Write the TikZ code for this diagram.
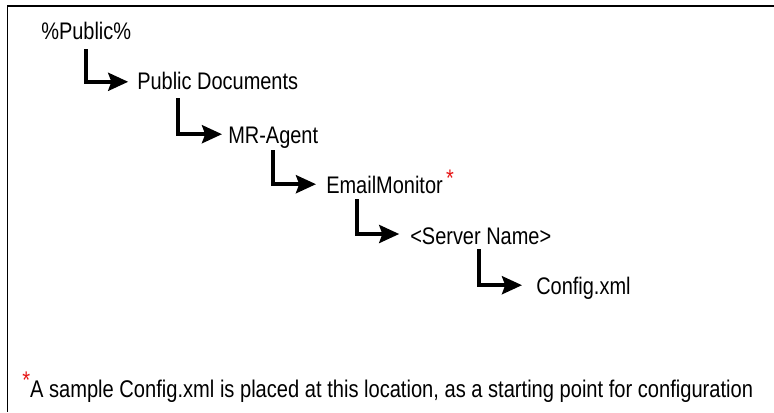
\documentclass[tikz,border=0pt]{standalone}
\usepackage{fontspec}
\setmainfont{Liberation Sans}
\definecolor{starred}{RGB}{230, 20, 20}
\usetikzlibrary{arrows.meta}

\begin{document}
\begin{tikzpicture}[
    folder/.style={anchor=base west, inner sep=0pt, yscale=1.2, transform shape, font=\fontsize{14.2}{17}\selectfont},
    elbow/.style={-{Stealth[length=0.5cm, width=0.45cm, inset=0.08cm]}, line width=2.6pt},
    frame/.style={line width=1.1pt}
  ]
  \useasboundingbox (0, 0) rectangle (19.35, -10.3);

  % Frame (top and left edges only)
  \draw[frame] (19.35, -0.15) -- (0.19, -0.15) -- (0.19, -10.3);

  % Folder path
  \node[folder] (pub) at (1.025, -0.975) {\%Public\%};
  \node[folder] (docs) at (3.425, -2.225) {Public Documents};
  \node[folder] (agent) at (5.7, -3.575) {MR-Agent};
  \node[folder] (email) at (8.15, -4.825) {EmailMonitor\,\raisebox{0.55ex}{\textcolor{starred}{*}}};
  \node[folder] (server) at (10.25, -6.1) {<Server Name>};
  \node[folder] (config) at (13.4, -7.35) {Config.xml};

  % Elbow arrows
  \draw[elbow] ([xshift=1.125cm, yshift=-0.25cm]pub.base west) |- ([xshift=-0.22cm, yshift=0.18cm]docs.base west);
  \draw[elbow] ([xshift=1.025cm, yshift=-0.23cm]docs.base west) |- ([xshift=-0.15cm, yshift=0.22cm]agent.base west);
  \draw[elbow] ([xshift=1.125cm, yshift=-0.18cm]agent.base west) |- ([xshift=-0.25cm, yshift=0.22cm]email.base west);
  \draw[elbow] ([xshift=0.775cm, yshift=-0.15cm]email.base west) |- ([xshift=-0.27cm, yshift=0.25cm]server.base west);
  \draw[elbow] ([xshift=1.725cm, yshift=-0.13cm]server.base west) |- ([xshift=-0.35cm, yshift=0.22cm]config.base west);

  % Footnote
  \node[folder, font=\fontsize{14.3}{17}\selectfont] (note) at (0.55, -9.925) {\raisebox{0.7ex}{\textcolor{starred}{*}}A sample Config.xml is placed at this location, as a starting point for configuration};
\end{tikzpicture}
\end{document}
